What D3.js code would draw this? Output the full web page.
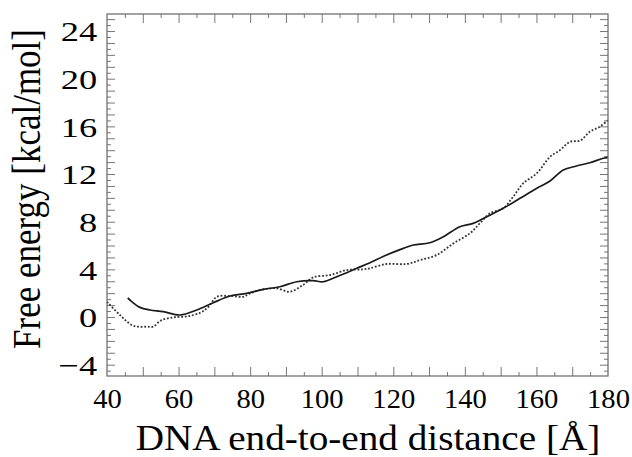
<!DOCTYPE html>
<html>
<head>
  <style>
    body {
      margin: 0;
      background: #fff;
    }
    .tick line {
      stroke: #777;
    }
  </style>
</head>
<body>
  <script src="https://d3js.org/d3.v7.min.js"></script>
  <script>
    // solid curve
    var solidX = [45.8, 46.4, 49.2, 52.0, 55.7, 60.4, 65.1, 69.7, 74.4, 79.0, 83.7, 88.3, 93.0, 97.6, 100.4, 104.2, 109.8, 113.5, 118.1, 122.8, 125.6, 130.2, 134.0, 138.6, 142.3, 146.1, 150.7, 155.4, 160.1, 163.8, 167.5, 171.2, 174.9, 178.7, 180];
    var solidY = [1.6, 1.43, 0.81, 0.59, 0.45, 0.17, 0.59, 1.2, 1.76, 1.99, 2.32, 2.54, 2.96, 3.05, 2.96, 3.38, 4.09, 4.56, 5.2, 5.76, 6.04, 6.23, 6.74, 7.58, 7.86, 8.42, 9.12, 9.96, 10.8, 11.41, 12.34, 12.67, 12.95, 13.32, 13.4];

    // dotted curve
    var dotX = [40, 43.6, 46.9, 48.7, 51.1, 52.9, 55.0, 58.5, 62.3, 66.0, 68.2, 70.7, 74.4, 78.1, 80.0, 83.7, 87.4, 91.1, 94.8, 97.6, 102.3, 107.0, 111.6, 113.5, 118.1, 123.7, 127.5, 132.1, 136.8, 141.4, 144.2, 147.0, 150.7, 153.5, 156.3, 160.1, 163.8, 166.6, 169.4, 172.2, 174.9, 177.7, 180];
    var dotY = [1.28, 0.17, -0.67, -0.81, -0.81, -0.81, -0.3, -0.03, 0.05, 0.35, 0.8, 1.7, 1.76, 1.7, 1.99, 2.32, 2.41, 2.12, 2.69, 3.33, 3.52, 3.94, 4.0, 4.09, 4.45, 4.45, 4.78, 5.2, 6.18, 7.02, 7.86, 8.7, 9.12, 10.1, 11.22, 12.06, 13.45, 14.01, 14.71, 14.8, 15.55, 15.97, 16.53];

    var xLabels = [40, 60, 80, 100, 120, 140, 160, 180];
    var yLabels = [-4, 0, 4, 8, 12, 16, 20, 24];

    var W = 632, H = 457;
    var pLeft = 107, pRight = 608, pTop = 14, pBottom = 376;
    var serif = "'Liberation Serif', 'Times New Roman', serif";

    var svg = d3.select("body").append("svg")
        .attr("width", W)
        .attr("height", H);

    var x = d3.scaleLinear().domain([40, 180]).range([pLeft, pRight]);
    var y = d3.scaleLinear().domain([-4.95, 25.43]).range([pBottom, pTop]);

    function strip(g) {
      g.select(".domain").remove();
    }

    // x ticks, bottom and top
    var xMinor = d3.range(45, 180, 10), xMajor = d3.range(50, 180, 10);
    svg.append("g").attr("transform", "translate(0," + pBottom + ")")
        .call(d3.axisBottom(x).tickValues(xMinor).tickSize(-4).tickFormat("")).call(strip);
    svg.append("g").attr("transform", "translate(0," + pBottom + ")")
        .call(d3.axisBottom(x).tickValues(xMajor).tickSize(-9).tickFormat("")).call(strip);
    svg.append("g").attr("transform", "translate(0," + pTop + ")")
        .call(d3.axisTop(x).tickValues(xMinor).tickSize(-4).tickFormat("")).call(strip);
    svg.append("g").attr("transform", "translate(0," + pTop + ")")
        .call(d3.axisTop(x).tickValues(xMajor).tickSize(-9).tickFormat("")).call(strip);

    // y ticks, left and right
    var yMinor = d3.range(-4.5, 25.1, 1), yMajor = d3.range(-4, 25.1, 1);
    svg.append("g").attr("transform", "translate(" + pLeft + ",0)")
        .call(d3.axisLeft(y).tickValues(yMinor).tickSize(-4).tickFormat("")).call(strip);
    svg.append("g").attr("transform", "translate(" + pLeft + ",0)")
        .call(d3.axisLeft(y).tickValues(yMajor).tickSize(-8).tickFormat("")).call(strip);
    svg.append("g").attr("transform", "translate(" + pRight + ",0)")
        .call(d3.axisRight(y).tickValues(yMinor).tickSize(-4).tickFormat("")).call(strip);
    svg.append("g").attr("transform", "translate(" + pRight + ",0)")
        .call(d3.axisRight(y).tickValues(yMajor).tickSize(-8).tickFormat("")).call(strip);

    // tick labels
    var xl = svg.append("g").attr("transform", "translate(0," + pBottom + ")")
        .call(d3.axisBottom(x).tickValues(xLabels).tickSize(0))
        .call(strip);
    xl.attr("font-family", serif).attr("font-size", 28);
    xl.selectAll(".tick text")
        .attr("fill", "#000")
        .attr("y", 32).attr("dy", null)
        .attr("transform", "scale(1.02,1)");

    var yl = svg.append("g").attr("transform", "translate(" + pLeft + ",0)")
        .call(d3.axisLeft(y).tickValues(yLabels).tickSize(0))
        .call(strip);
    yl.attr("font-family", serif).attr("font-size", 28);
    yl.selectAll(".tick text")
        .attr("fill", "#000")
        .attr("x", -7.5).attr("dy", "0.35em")
        .attr("transform", "scale(1.3,1)");

    // curves
    var line = d3.line()
        .x(function(d){ return x(d[0]); })
        .y(function(d){ return y(d[1]); })
        .curve(d3.curveCatmullRom);

    svg.append("path")
        .datum(d3.zip(dotX, dotY))
        .attr("d", line)
        .attr("fill", "none")
        .attr("stroke", "#333")
        .attr("stroke-width", 1.8)
        .attr("stroke-dasharray", "1.8,1.8");

    svg.append("path")
        .datum(d3.zip(solidX, solidY))
        .attr("d", line)
        .attr("fill", "none")
        .attr("stroke", "#1a1a1a")
        .attr("stroke-width", 1.7);

    // frame
    svg.append("rect")
        .attr("x", pLeft).attr("y", pTop)
        .attr("width", pRight - pLeft).attr("height", pBottom - pTop)
        .attr("fill", "none")
        .attr("stroke", "#666")
        .attr("stroke-width", 1.2);

    // titles
    svg.append("text")
        .attr("font-family", serif)
        .attr("font-size", 35)
        .attr("fill", "#000")
        .attr("text-anchor", "middle")
        .attr("transform", "translate(368,450) scale(1.12,1)")
        .text("DNA end-to-end distance [Å]");

    svg.append("text")
        .attr("font-family", serif)
        .attr("font-size", 35)
        .attr("fill", "#000")
        .attr("text-anchor", "middle")
        .attr("transform", "translate(40,189) scale(1.12,1) rotate(-90)")
        .text("Free energy [kcal/mol]");
  </script>
</body>
</html>
